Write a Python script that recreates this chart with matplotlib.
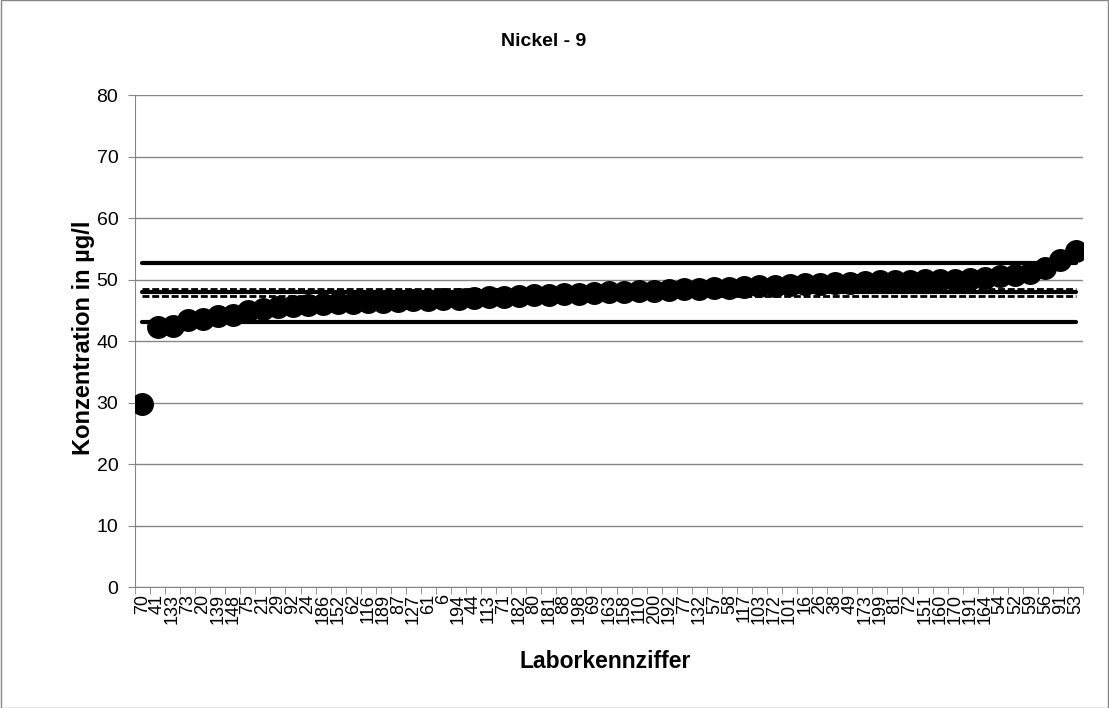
import matplotlib
matplotlib.use("Agg")
import matplotlib.pyplot as plt
from matplotlib.patches import Rectangle
from matplotlib.ticker import FixedLocator
import numpy as np

plt.rcParams['font.family'] = ['Liberation Sans', 'DejaVu Sans']

# Laborkennziffern (sortiert nach Messwert)
labore = ["70", "41", "133", "73", "20", "139", "148", "75", "21", "29",
          "92", "24", "186", "152", "62", "116", "189", "87", "127", "61",
          "6", "194", "44", "113", "71", "182", "80", "181", "88", "198",
          "69", "163", "158", "110", "200", "192", "77", "132", "57", "58",
          "117", "103", "172", "101", "16", "26", "38", "49", "173", "199",
          "81", "72", "151", "160", "170", "191", "164", "54", "52", "59",
          "56", "91", "53"]

# Messwerte in µg/l
konzentration = [29.8, 42.2, 42.4, 43.4, 43.6, 44.1, 44.3, 44.8, 45.2, 45.5,
                 45.7, 45.9, 46.0, 46.1, 46.2, 46.3, 46.4, 46.5, 46.6, 46.7,
                 46.8, 46.9, 47.0, 47.1, 47.2, 47.3, 47.4, 47.5, 47.6, 47.7,
                 47.8, 47.9, 48.0, 48.1, 48.2, 48.3, 48.4, 48.5, 48.6, 48.7,
                 48.8, 48.9, 49.0, 49.1, 49.2, 49.3, 49.4, 49.5, 49.6, 49.7,
                 49.8, 49.8, 49.9, 50.0, 50.0, 50.1, 50.3, 50.5, 50.8, 51.0,
                 51.8, 53.2, 54.7]

# Referenzlinien
mittelwert = 47.9
vb_oben = 48.5
vb_unten = 47.3
toleranz_oben = 52.7
toleranz_unten = 43.1

grau = "#868686"

fig = plt.figure(figsize=(11.09, 7.08), dpi=100)
ax = fig.add_axes([0.1217, 0.1709, 0.8549, 0.6949])

x = np.arange(len(labore))
x_lim = [x[0], x[-1]]

for wert in [toleranz_oben, toleranz_unten, mittelwert]:
    ax.plot(x_lim, [wert, wert], color="black", lw=3, solid_capstyle="round", zorder=2)
for wert in [vb_oben, vb_unten]:
    ax.plot(x_lim, [wert, wert], color="black", lw=2, linestyle=(0, (2.5, 1)), zorder=2)

ax.plot(x, konzentration, "o", color="black", ms=15.5, zorder=3)

ax.set_xlim(-0.5, len(labore) - 0.5)
ax.set_ylim(0, 80)
ax.set_yticks(np.arange(0, 81, 10))
ax.grid(axis="y", color=grau, lw=1)
ax.set_axisbelow(True)

ax.set_xticks(x)
ax.set_xticklabels(labore, rotation=90, fontsize=13)
ax.xaxis.set_minor_locator(FixedLocator(np.arange(len(labore) + 1) - 0.5))
ax.tick_params(axis="x", which="major", length=0, pad=5)
ax.tick_params(axis="x", which="minor", length=5, color=grau)
ax.tick_params(axis="y", length=5, color=grau, labelsize=14, pad=7)

for s in ["top", "right"]:
    ax.spines[s].set_visible(False)
for s in ["left", "bottom"]:
    ax.spines[s].set_color(grau)

fig.text(0.5455, 0.065, "Laborkennziffer", ha="center", va="center",
         fontsize=16.5, fontweight="bold")
fig.text(0.0755, 0.5226, "Konzentration in µg/l", ha="center", va="center",
         rotation=90, fontsize=17, fontweight="bold")
fig.text(0.49, 0.942, "Nickel - 9", ha="center", va="center", fontsize=14, fontweight="bold")

fig.patches.append(Rectangle((0.0005, 0.0007), 0.999, 0.9986, transform=fig.transFigure,
                             fill=False, edgecolor=grau, lw=1))

fig.savefig("out.png", dpi=100)
